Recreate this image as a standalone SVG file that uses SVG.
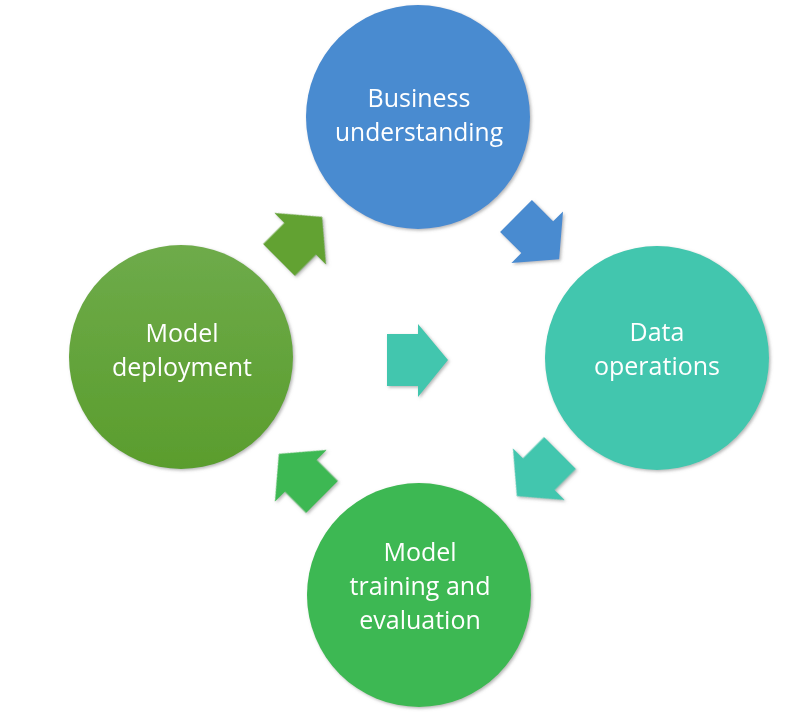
<svg xmlns="http://www.w3.org/2000/svg" width="799" height="713" viewBox="0 0 799 713">
<style>
.lbl{font-family:"Open Sans","Liberation Sans",sans-serif;font-size:25px;fill:#ffffff;text-anchor:middle}
.blue{fill:#4A8BD0}
.teal{fill:#42C6AE}
.dgreen{fill:url(#gdep)}
.lgreen{fill:#3DB852}
.agreen{fill:#62A232}
</style>
<defs>
<filter id="sh" x="-20%" y="-20%" width="140%" height="140%">
<feDropShadow dx="1.5" dy="1.5" stdDeviation="1.5" flood-color="#7a7a7a" flood-opacity="0.55"/>
</filter>
<linearGradient id="gdep" x1="0" y1="0" x2="0" y2="1">
<stop offset="0" stop-color="#6EAB4A"/>
<stop offset="1" stop-color="#5A9D2D"/>
</linearGradient>
<polygon id="arr" points="0,-22.5 30,-22.5 30,-36.5 61,0 30,36.5 30,22.5 0,22.5"/>
</defs>
<rect width="799" height="713" fill="#ffffff"/>
<g id="connectors" filter="url(#sh)">
<use href="#arr" class="blue" transform="translate(516,216) rotate(45)"/>
<use href="#arr" class="teal" transform="translate(560,453) rotate(135)"/>
<use href="#arr" class="lgreen" transform="translate(322,497) rotate(-135)"/>
<use href="#arr" class="agreen" transform="translate(279,260) rotate(-45)"/>
<polygon class="teal" points="387,334 418,334 418,324 448,360 418,397 418,386 387,386"/>
</g>
<g id="business" filter="url(#sh)">
<circle class="blue" cx="418" cy="117" r="112"/>
<text class="lbl" x="419" y="106.5">Business</text>
<text class="lbl" x="419" y="140.5" textLength="168" lengthAdjust="spacingAndGlyphs">understanding</text>
</g>
<g id="data" filter="url(#sh)">
<circle class="teal" cx="657" cy="358" r="112"/>
<text class="lbl" x="657" y="340.5">Data</text>
<text class="lbl" x="657" y="374.5">operations</text>
</g>
<g id="training" filter="url(#sh)">
<circle class="lgreen" cx="419" cy="595" r="112"/>
<text class="lbl" x="420" y="561">Model</text>
<text class="lbl" x="420" y="595">training and</text>
<text class="lbl" x="420" y="629">evaluation</text>
</g>
<g id="deployment" filter="url(#sh)">
<circle class="dgreen" cx="181" cy="357" r="112"/>
<text class="lbl" x="182" y="342">Model</text>
<text class="lbl" x="182" y="376">deployment</text>
</g>
</svg>
